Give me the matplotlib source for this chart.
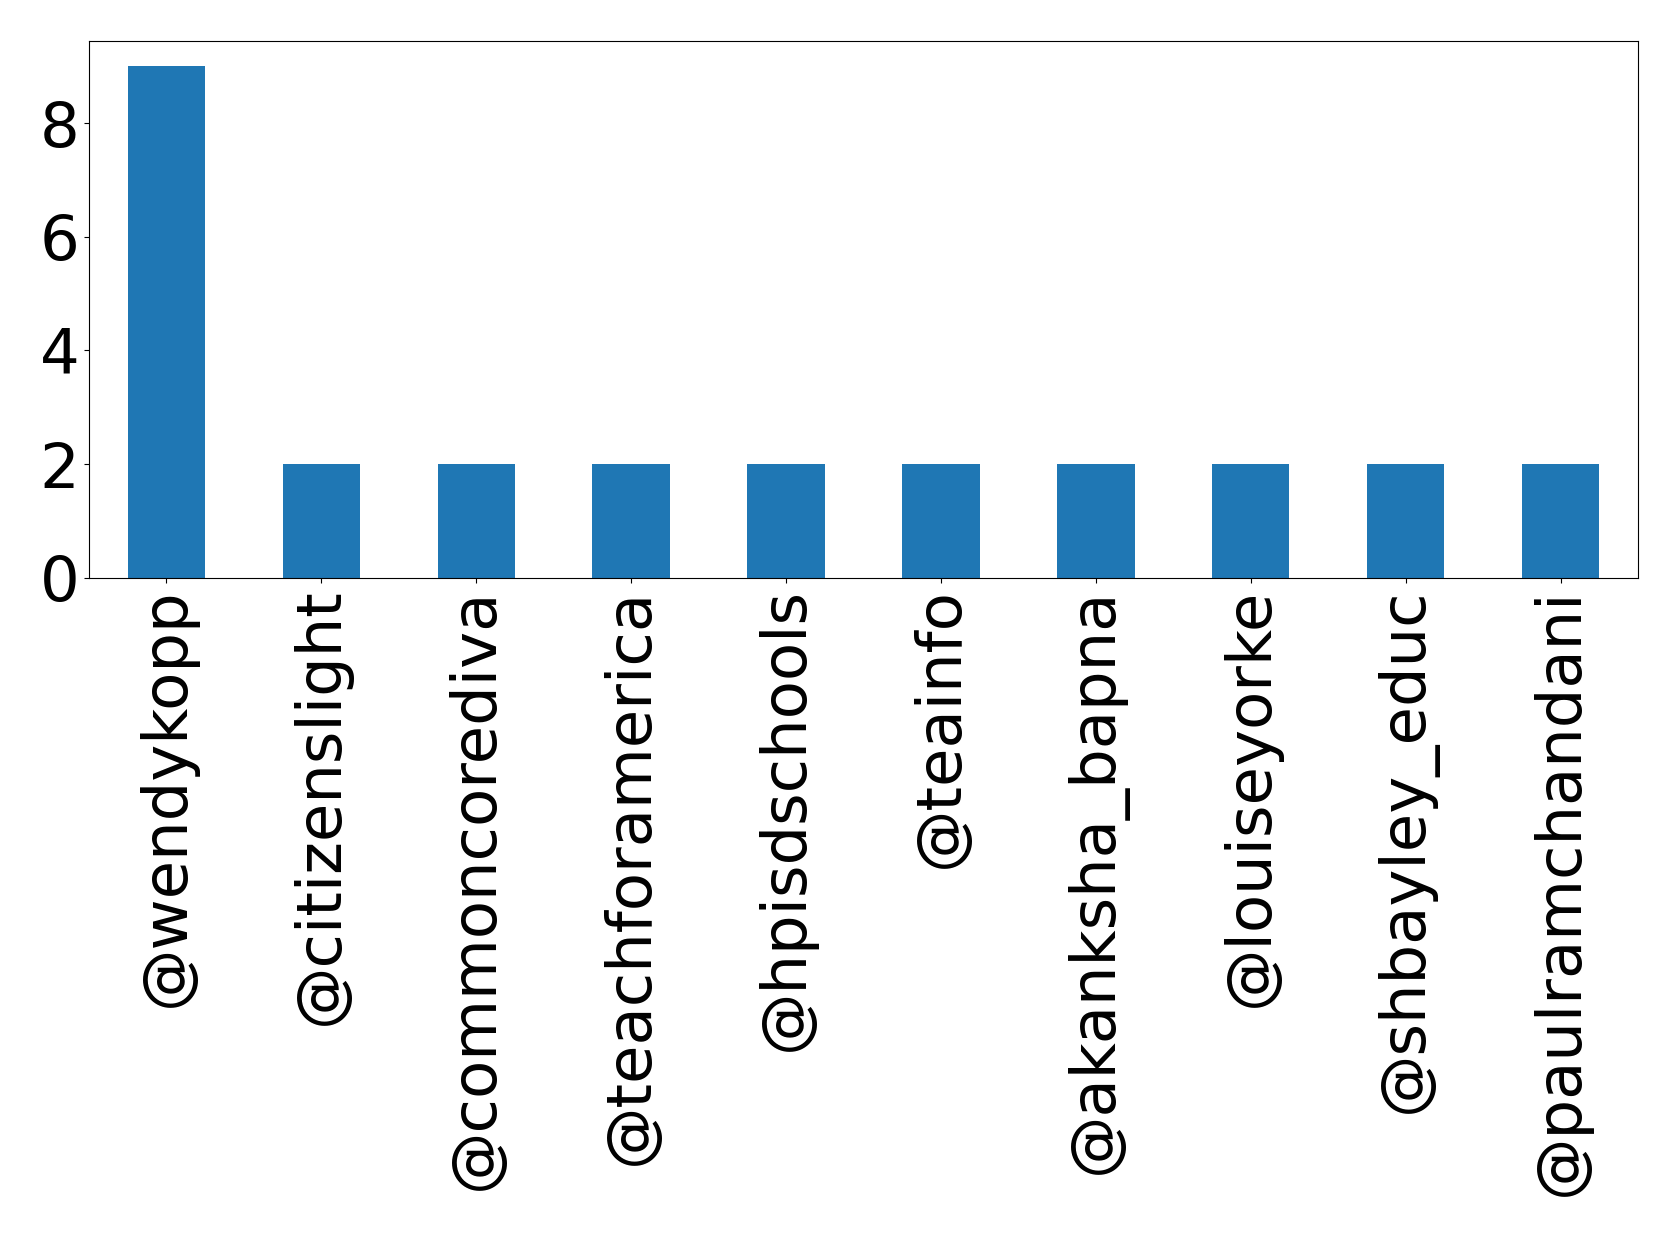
import matplotlib
matplotlib.use('Agg')
from matplotlib import pyplot as plt
import numpy as np

users = ['@wendykopp', '@citizenslight', '@commoncorediva', '@teachforamerica',
         '@hpisdschools', '@teainfo', '@akanksha_bapna', '@louiseyorke',
         '@shbayley_educ', '@paulramchandani']
counts = [9, 2, 2, 2, 2, 2, 2, 2, 2, 2]

fig, ax = plt.subplots(figsize=(16.79, 12.37), dpi=100)
fig.subplots_adjust(left=0.053, right=0.9756, top=0.967, bottom=0.533)

x = np.arange(len(users))
ax.bar(x, counts, width=0.5, color='#1f77b4')
ax.set_xlim(-0.5, len(users) - 0.5)
ax.set_ylim(0, 9.45)
ax.set_xticks(x)
ax.set_xticklabels(users, rotation=90)
ax.set_yticks([0, 2, 4, 6, 8])
ax.tick_params(labelsize=45)

fig.savefig('out.png', dpi=100)
